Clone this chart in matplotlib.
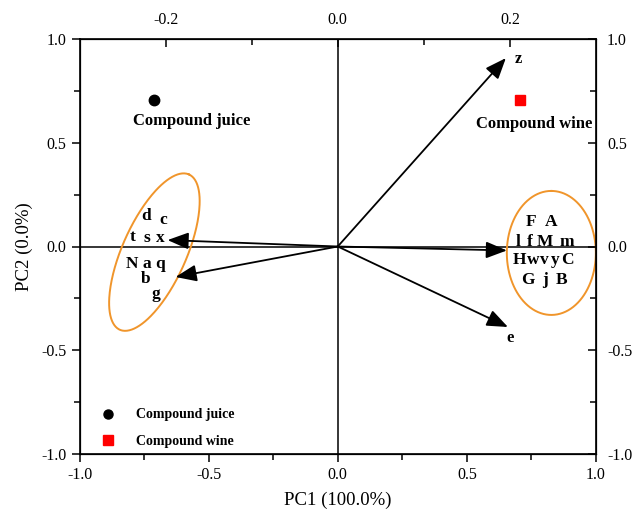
import numpy as np
import matplotlib
matplotlib.use("Agg")
import matplotlib.pyplot as plt
from matplotlib.lines import Line2D

plt.rcParams['font.family'] = ['Liberation Serif', 'DejaVu Serif']

# ---- data ----
samples = ["Compound juice", "Compound wine"]
sample_x = [-0.713, 0.705]
sample_y = [0.706, 0.706]
sample_colors = ["black", "red"]
sample_markers = ["o", "s"]
sample_label_x = [-0.566, 0.76]
sample_label_y = [0.605, 0.59]

arrow_x = [0.651, 0.659, 0.655, -0.659, -0.628]
arrow_y = [0.908, -0.388, -0.019, 0.031, -0.147]

arrow_label_text = ["z", "e"]
arrow_label_x = [0.698, 0.667]
arrow_label_y = [0.904, -0.441]

var_left = ["d", "c", "t", "s", "x", "N", "a", "q", "b", "g"]
var_left_x = [-0.741, -0.676, -0.795, -0.741, -0.687, -0.795, -0.741, -0.687, -0.745, -0.703]
var_left_y = [0.149, 0.129, 0.048, 0.043, 0.043, -0.082, -0.082, -0.082, -0.158, -0.230]

var_right = ["F", "A", "l", "f", "M", "m", "H", "w", "v", "y", "C", "G", "j", "B"]
var_right_x = [0.748, 0.826, 0.698, 0.744, 0.802, 0.888, 0.702, 0.756, 0.802, 0.841, 0.891, 0.736, 0.802, 0.868]
var_right_y = [0.118, 0.118, 0.022, 0.022, 0.022, 0.022, -0.065, -0.065, -0.065, -0.065, -0.065, -0.161, -0.161, -0.161]

# ellipses: centre (data), semi-axes (pixels), angle (deg, screen)
ell_cx = [-0.71, 0.827]
ell_cy = [-0.027, -0.031]
ell_a = [85, 62]
ell_b = [32, 44.5]
ell_ang = [66, 90]

x_ticks = [-1.0, -0.5, 0.0, 0.5, 1.0]
y_ticks = [-1.0, -0.5, 0.0, 0.5, 1.0]
top_ticks = [-0.2, 0.0, 0.2]

fig = plt.figure(figsize=(6.36, 5.12), dpi=100)
ax = fig.add_axes([79.5/636, 1-454/512, 516.5/636, 415/512])
ax.set_xlim(-1, 1)
ax.set_ylim(-1, 1)

ax.axhline(0, color='black', lw=1.1, zorder=1)
ax.axvline(0, color='black', lw=1.1, zorder=1)

# ellipses
sx = ax.bbox.width / 2.0
sy = ax.bbox.height / 2.0
t = np.linspace(0, 2*np.pi, 300)
for cx, cy, a, b, ang in zip(ell_cx, ell_cy, ell_a, ell_b, ell_ang):
    th = np.deg2rad(ang)
    px = a*np.cos(t)*np.cos(th) - b*np.sin(t)*np.sin(th)
    py = a*np.cos(t)*np.sin(th) + b*np.sin(t)*np.cos(th)
    ax.plot(cx + px/sx, cy + py/sy, color='#F0952B', lw=1.4, zorder=2)

# arrows
for x, y in zip(arrow_x, arrow_y):
    ax.annotate("", xy=(x, y), xytext=(0, 0),
                arrowprops=dict(arrowstyle='-|>,head_length=0.8,head_width=0.32', mutation_scale=16,
                                lw=1.3, color='black', shrinkA=0, shrinkB=0), zorder=3)
for s, x, y in zip(arrow_label_text, arrow_label_x, arrow_label_y):
    ax.text(x, y, s, ha='center', va='center', fontsize=12, fontweight='bold')

for s, x, y in zip(var_left, var_left_x, var_left_y):
    ax.text(x, y, s, ha='center', va='center', fontsize=12.5, fontweight='bold', zorder=4)
for s, x, y in zip(var_right, var_right_x, var_right_y):
    ax.text(x, y, s, ha='center', va='center', fontsize=12.5, fontweight='bold', zorder=4)

# samples
for x, y, c, m in zip(sample_x, sample_y, sample_colors, sample_markers):
    ax.plot([x], [y], marker=m, color=c, markersize=7.5, ls='none', zorder=5)
for s, x, y in zip(samples, sample_label_x, sample_label_y):
    ax.text(x, y, s, ha='center', va='center', fontsize=12, fontweight='bold')

# legend
handles = [Line2D([], [], marker=m, color=c, ls='none', markersize=6.5)
           for c, m in zip(sample_colors, sample_markers)]
leg = ax.legend(handles, samples, loc='center left', bbox_to_anchor=(0.0174, 0.0627),
                frameon=False, prop={'family': 'Liberation Serif', 'weight': 'bold', 'size': 10},
                handlelength=2.0, handletextpad=1.0, labelspacing=0.95, borderpad=0.4,
                borderaxespad=0.0)

# axes styling
ax.set_xticks(x_ticks)
ax.set_yticks(y_ticks)
ax.set_xticklabels([f"{v:.1f}" for v in x_ticks])
ax.set_yticklabels([f"{v:.1f}" for v in y_ticks])
ax.set_xticks(np.arange(-0.75, 1.0, 0.5), minor=True)
ax.set_yticks(np.arange(-0.75, 1.0, 0.5), minor=True)
ax.tick_params(which='both', direction='out', labelsize=11.5, width=1.1)
ax.tick_params(which='major', length=6)
ax.tick_params(which='minor', length=4)
for sp in ax.spines.values():
    sp.set_linewidth(1.2)

ax.set_xlabel("PC1 (100.0%)", fontsize=13.5, labelpad=6)
ax.set_ylabel("PC2 (0.0%)", fontsize=13.5, labelpad=6)

# top axis
axt = ax.twiny()
axt.set_xlim(-0.3, 0.3)
axt.set_xticks(top_ticks)
axt.set_xticklabels([f"{v:.1f}" for v in top_ticks])
axt.set_xticks([-0.1, 0.1], minor=True)
axt.tick_params(which='both', direction='in', labelsize=11.5, width=1.1, pad=8)
axt.tick_params(which='major', length=6)
axt.tick_params(which='minor', length=4)

# right axis
axr = ax.twinx()
axr.set_ylim(-1, 1)
axr.set_yticks(y_ticks)
axr.set_yticklabels([f"{v:.1f}" for v in y_ticks])
axr.set_yticks(np.arange(-0.75, 1.0, 0.5), minor=True)
axr.tick_params(which='both', direction='in', labelsize=11.5, width=1.1, pad=8)
axr.tick_params(which='major', length=6)
axr.tick_params(which='minor', length=4)

fig.savefig("out.png", dpi=100)
